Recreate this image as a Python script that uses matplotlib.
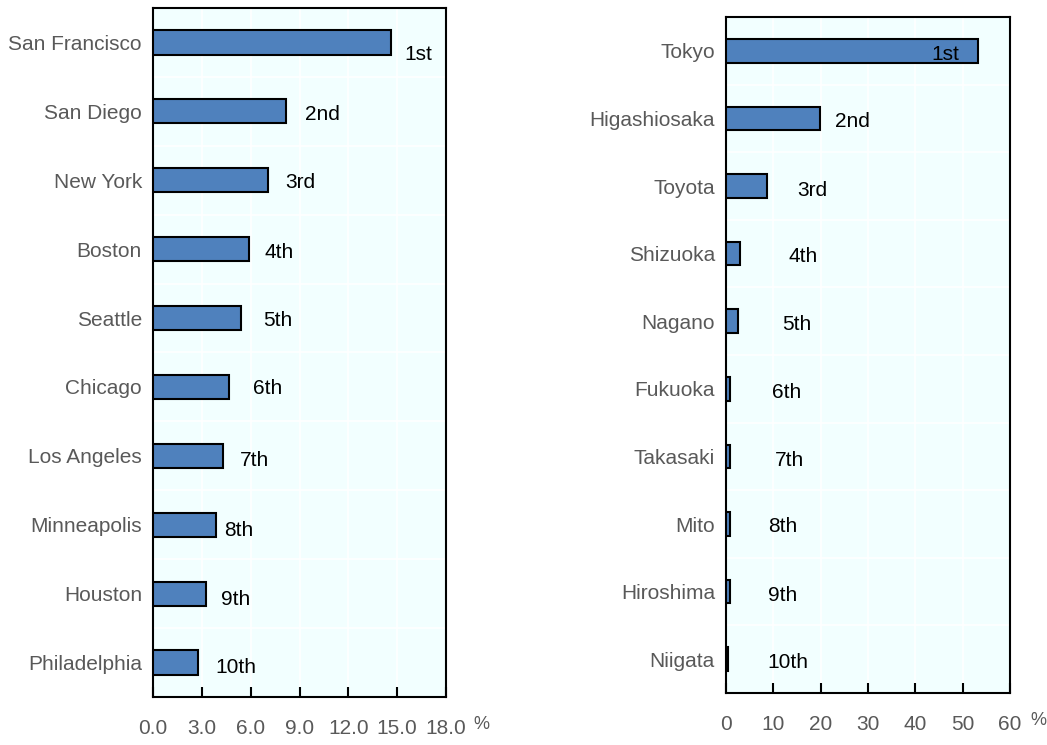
import matplotlib
matplotlib.use("Agg")
import matplotlib.pyplot as plt
from matplotlib.ticker import FormatStrFormatter

plt.rcParams['font.family'] = ['Liberation Sans Narrow', 'Liberation Sans', 'DejaVu Sans']

# data
us_cities = ['San Francisco', 'San Diego', 'New York', 'Boston', 'Seattle',
             'Chicago', 'Los Angeles', 'Minneapolis', 'Houston', 'Philadelphia']
us_share = [14.6, 8.2, 7.05, 5.9, 5.4, 4.65, 4.3, 3.9, 3.25, 2.75]

jp_cities = ['Tokyo', 'Higashiosaka', 'Toyota', 'Shizuoka', 'Nagano',
             'Fukuoka', 'Takasaki', 'Mito', 'Hiroshima', 'Niigata']
jp_share = [53.2, 19.9, 8.7, 3.0, 2.5, 0.9, 0.9, 0.9, 0.8, 0.4]

ranks = ['1st', '2nd', '3rd', '4th', '5th', '6th', '7th', '8th', '9th', '10th']

us_ticks = [0, 3, 6, 9, 12, 15, 18]
jp_ticks = [0, 10, 20, 30, 40, 50, 60]

# label offsets from bar end, in pixels (dx, dy)
us_label_off = [(14, -12), (19, -3), (17, -2), (15, -3), (22, -2),
                (24, -2), (17, -5), (8, -6), (15, -6), (18, -5)]
jp_label_off = [(-46, -4), (15, -3), (30, -5), (48, -3), (44, -3),
                (42, -4), (45, -4), (38, -3), (38, -4), (39, -3)]

BAR = '#4F81BD'
BG = '#F2FFFF'
GRAY = '#595959'
FS = 15


def draw_panel(ax, cities, values, ticks, offsets, fmt, pct_x):
    n = len(cities)
    ypos = list(range(n))
    ax.set_facecolor(BG)
    ax.barh(ypos, values, height=0.35, color=BAR, edgecolor='black',
            linewidth=1.5, zorder=3)
    ax.set_ylim(n - 0.5, -0.5)
    ax.set_xlim(ticks[0], ticks[-1])
    ax.set_xticks(ticks)
    ax.xaxis.set_major_formatter(FormatStrFormatter(fmt))
    ax.set_yticks(ypos)
    ax.set_yticklabels(cities)
    ax.set_yticks([y + 0.5 for y in ypos[:-1]], minor=True)
    ax.grid(True, axis='x', which='major', color='white', linewidth=1.2, zorder=0)
    ax.grid(True, axis='y', which='minor', color='white', linewidth=1.2, zorder=0)
    ax.tick_params(axis='y', which='both', length=0, pad=8,
                   labelsize=FS, labelcolor=GRAY)
    ax.tick_params(axis='x', direction='in', length=7, width=1.5,
                   pad=16, labelsize=FS, labelcolor=GRAY)
    for s in ax.spines.values():
        s.set_linewidth(1.5)
        s.set_color('black')
    for i, (v, r) in enumerate(zip(values, ranks)):
        dx, dy = offsets[i]
        ax.annotate(r, xy=(v, i), xytext=(dx, dy), textcoords='offset pixels',
                    ha='left', va='center', fontsize=FS, color='black',
                    zorder=4)
    ax.text(pct_x, -0.04, '%', transform=ax.transAxes, fontsize=13,
            color=GRAY, ha='center', va='center')


fig = plt.figure(figsize=(10.47, 7.45), dpi=100)
ax1 = fig.add_axes([153 / 1047, 48 / 745, 293 / 1047, 689 / 745])
ax2 = fig.add_axes([726 / 1047, 52 / 745, 284 / 1047, 676 / 745])

draw_panel(ax1, us_cities, us_share, us_ticks, us_label_off, '%.1f', 1.12)
draw_panel(ax2, jp_cities, jp_share, jp_ticks, jp_label_off, '%d', 1.1)

fig.savefig('out.png', dpi=100, facecolor='white')
